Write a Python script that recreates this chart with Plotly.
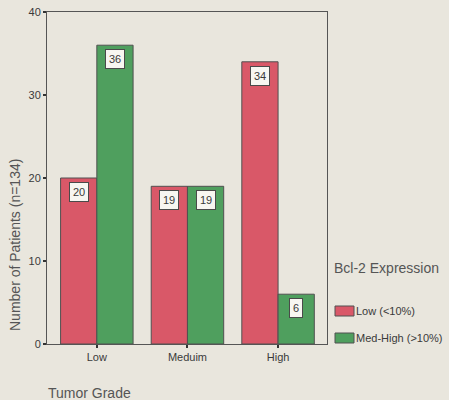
import plotly.graph_objects as go

categories = ["Low", "Meduim", "High"]
series_names = ["Low (<10%)", "Med-High (>10%)"]
low_values = [20, 19, 34]
medhigh_values = [36, 19, 6]
y_ticks = [0, 10, 20, 30, 40]

colors = ["#d95868", "#4f9f5e"]
bg = "#e9e6dd"
axis_col = "#555555"
text_col = "#3a3a3a"
font_fam = "Liberation Sans, Arial, sans-serif"

fig = go.Figure()
xs = list(range(len(categories)))
for name, vals, col in zip(series_names, [low_values, medhigh_values], colors):
    fig.add_trace(go.Bar(
        x=xs, y=vals, name=name,
        marker=dict(color=col, line=dict(color="#505050", width=1)),
        showlegend=False,
    ))

# value boxes
offsets = [-0.2, 0.2]
for vals, off in zip([low_values, medhigh_values], offsets):
    for i, v in enumerate(vals):
        fig.add_annotation(
            x=i + off, y=v, xref="x", yref="y",
            text=str(v), showarrow=False,
            yanchor="top", yshift=-4,
            font=dict(size=11, color=text_col, family=font_fam),
            bgcolor="#f7f6f1", bordercolor="#4a4a4a", borderwidth=1, borderpad=3,
        )

W, H = 449, 400
L, R, T, B = 47, 122, 12, 56
pw, ph = W - L - R, H - T - B

def px_x(x):
    return (x - L) / pw

def px_y(y):
    return (H - B - y) / ph

# axis titles
fig.add_annotation(
    x=px_x(15), y=px_y(245), xref="paper", yref="paper",
    text="Number of Patients (n=134)", textangle=-90, showarrow=False,
    font=dict(size=14, color="#555555", family=font_fam),
    xanchor="center", yanchor="middle",
)
fig.add_annotation(
    x=px_x(46), y=px_y(393), xref="paper", yref="paper",
    text="Tumor Grade", showarrow=False,
    font=dict(size=14, color="#555555", family=font_fam),
    xanchor="left", yanchor="middle",
)

# manual legend
fig.add_annotation(
    x=px_x(332), y=px_y(268), xref="paper", yref="paper",
    text="Bcl-2 Expression", showarrow=False,
    font=dict(size=14, color="#555555", family=font_fam),
    xanchor="left", yanchor="middle",
)
for k, (name, col) in enumerate(zip(series_names, colors)):
    yc = 311 + 27 * k
    fig.add_shape(
        type="rect", xref="paper", yref="paper",
        x0=px_x(335), x1=px_x(354), y0=px_y(yc - 5), y1=px_y(yc + 5),
        fillcolor=col, line=dict(color="#505050", width=1),
    )
    fig.add_annotation(
        x=px_x(354), y=px_y(yc), xref="paper", yref="paper",
        text=name, showarrow=False,
        font=dict(size=11, color=text_col, family=font_fam),
        xanchor="left", yanchor="middle",
    )

fig.update_layout(
    width=W, height=H, autosize=False,
    margin=dict(l=L, r=R, t=T, b=B, pad=0, autoexpand=False),
    paper_bgcolor=bg, plot_bgcolor=bg,
    barmode="group", bargap=0.2, bargroupgap=0,
    font=dict(family=font_fam, color=text_col, size=11),
    xaxis=dict(
        tickmode="array", tickvals=xs, ticktext=categories,
        range=[-0.55, 2.54], showgrid=False, zeroline=False, automargin=False,
        showline=True, linecolor=axis_col, linewidth=1, mirror=True,
        ticks="outside", ticklen=3, tickwidth=2, tickcolor="#333333",
        tickfont=dict(size=11, color=text_col),
    ),
    yaxis=dict(
        tickmode="array", tickvals=y_ticks,
        range=[0, 40], showgrid=False, zeroline=False, automargin=False,
        showline=True, linecolor=axis_col, linewidth=1, mirror=True,
        ticks="outside", ticklen=3, tickwidth=2, tickcolor="#333333",
        tickfont=dict(size=11, color=text_col),
    ),
)

fig.write_html(
    "out.html",
    config={"displayModeBar": False},
    post_script="document.body.style.margin='0';document.body.style.padding='0';document.body.style.overflow='hidden';",
)
